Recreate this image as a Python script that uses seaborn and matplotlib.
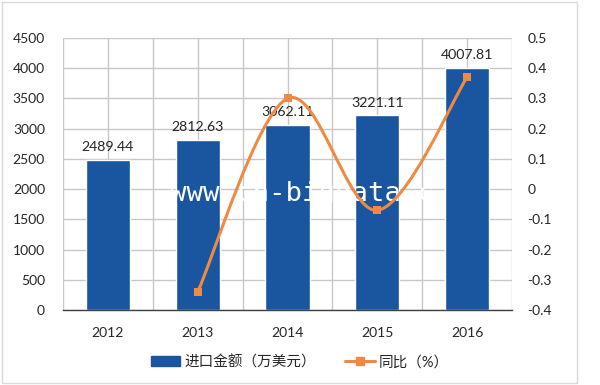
import matplotlib
matplotlib.use("Agg")
import matplotlib.pyplot as plt
from matplotlib.path import Path
from matplotlib.patches import PathPatch, Rectangle
from matplotlib.lines import Line2D
from matplotlib.patches import Patch
import seaborn as sns
import pandas as pd
import numpy as np

years = ["2012", "2013", "2014", "2015", "2016"]
amounts = [2489.44, 2812.63, 3062.11, 3221.11, 4007.81]
yoy_years = ["2013", "2014", "2015", "2016"]
yoy = [-0.34, 0.30, -0.07, 0.37]
bar_label = "进口金额（万美元）"
line_label = "同比（%）"
watermark = "www.cn-bigdata.c"
left_ticks = [0, 500, 1000, 1500, 2000, 2500, 3000, 3500, 4000, 4500]
right_ticks = [-0.4, -0.3, -0.2, -0.1, 0, 0.1, 0.2, 0.3, 0.4, 0.5]
right_ticklabels = ["-0.4", "-0.3", "-0.2", "-0.1", "0", "0.1", "0.2", "0.3", "0.4", "0.5"]

sns.set_style("white")
plt.rcParams['font.family'] = ['Lato', 'Noto Sans CJK SC', 'DejaVu Sans']

BLUE = "#1A55A0"
ORANGE = "#EE8A43"
TXT = "#262626"
GRID = "#C8C8C8"

fig = plt.figure(figsize=(6, 3.85), dpi=100)
fig.patches.append(Rectangle((2/600, 1 - 383/385), 575/600, 381/385, transform=fig.transFigure,
                             fill=False, edgecolor="#D9D9D9", linewidth=1))
ax = fig.add_axes([63/600, 1 - 310/385, 449/600, 272/385])

df = pd.DataFrame({"year": years, "amount": amounts})
sns.barplot(data=df, x="year", y="amount", order=years, color=BLUE, width=0.49,
            saturation=1, ax=ax, zorder=2)
ax.set_xlim(-0.5, len(years) - 0.5)
ax.set_ylim(0, 4500)
ax.set_yticks(left_ticks)
ax.set_yticklabels([str(t) for t in left_ticks])
ax.set_xlabel("")
ax.set_ylabel("")
ax.grid(axis="y", color=GRID, linewidth=1, zorder=0)
for xv in np.arange(-0.5, len(years), 0.5):
    ax.axvline(xv, color=GRID, linewidth=1, zorder=0)
for s in ["top", "right", "left"]:
    ax.spines[s].set_visible(False)
ax.spines["bottom"].set_color("#404040")
ax.spines["bottom"].set_linewidth(1)
ax.tick_params(axis="both", length=0, labelsize=10, colors=TXT)
ax.tick_params(axis="x", pad=12)
ax.tick_params(axis="y", pad=13)

for i, v in enumerate(amounts):
    ax.text(i, v + 110, f"{v:.2f}", ha="center", va="bottom", fontsize=10.2, color=TXT, zorder=5)

ax.text((170 - 63) / 449, (310 - 194) / 272, watermark, transform=ax.transAxes,
        family="DejaVu Sans Mono", fontsize=19.7, color="white", ha="left", va="center",
        zorder=3)

ax2 = ax.twinx()
ax2.set_ylim(-0.4, 0.5)
ax2.set_yticks(right_ticks)
ax2.set_yticklabels(right_ticklabels)
for s in ["top", "right", "left", "bottom"]:
    ax2.spines[s].set_visible(False)
ax2.tick_params(axis="y", length=0, labelsize=10, colors=TXT, pad=11)

xs = [years.index(y) for y in yoy_years]
pts = list(zip(xs, yoy))
verts = [pts[0]]
codes = [Path.MOVETO]
t = 1 / 6
n = len(pts)
for i in range(n - 1):
    p0 = np.array(pts[i - 1] if i > 0 else pts[i])
    p1 = np.array(pts[i])
    p2 = np.array(pts[i + 1])
    p3 = np.array(pts[i + 2] if i + 2 < n else pts[i + 1])
    c1 = p1 + (p2 - p0) * t
    c2 = p2 - (p3 - p1) * t
    verts += [tuple(c1), tuple(c2), tuple(p2)]
    codes += [Path.CURVE4] * 3
ax2.add_patch(PathPatch(Path(verts, codes), fill=False, edgecolor=ORANGE, linewidth=2.2, zorder=4))
ldf = pd.DataFrame({"x": xs, "y": yoy})
sns.scatterplot(data=ldf, x="x", y="y", marker="s", s=38, color=ORANGE, edgecolor=ORANGE,
                linewidth=0, ax=ax2, zorder=5)
ax2.set_xlabel("")
ax2.set_ylabel("")
ax2.set_xlim(-0.5, len(years) - 0.5)

handles = [Patch(facecolor=BLUE, edgecolor=BLUE),
           Line2D([0], [0], color=ORANGE, linewidth=2.2, marker="s", markersize=6)]
leg = fig.legend(handles, [bar_label, line_label], loc="center", bbox_to_anchor=(0.5, 1 - 362 / 385),
                 ncol=2, frameon=False, fontsize=10.5, handlelength=2.0, handleheight=0.6,
                 columnspacing=2.0, handletextpad=0.3)
for txt in leg.get_texts():
    txt.set_color(TXT)

fig.savefig("out.png", dpi=100)
